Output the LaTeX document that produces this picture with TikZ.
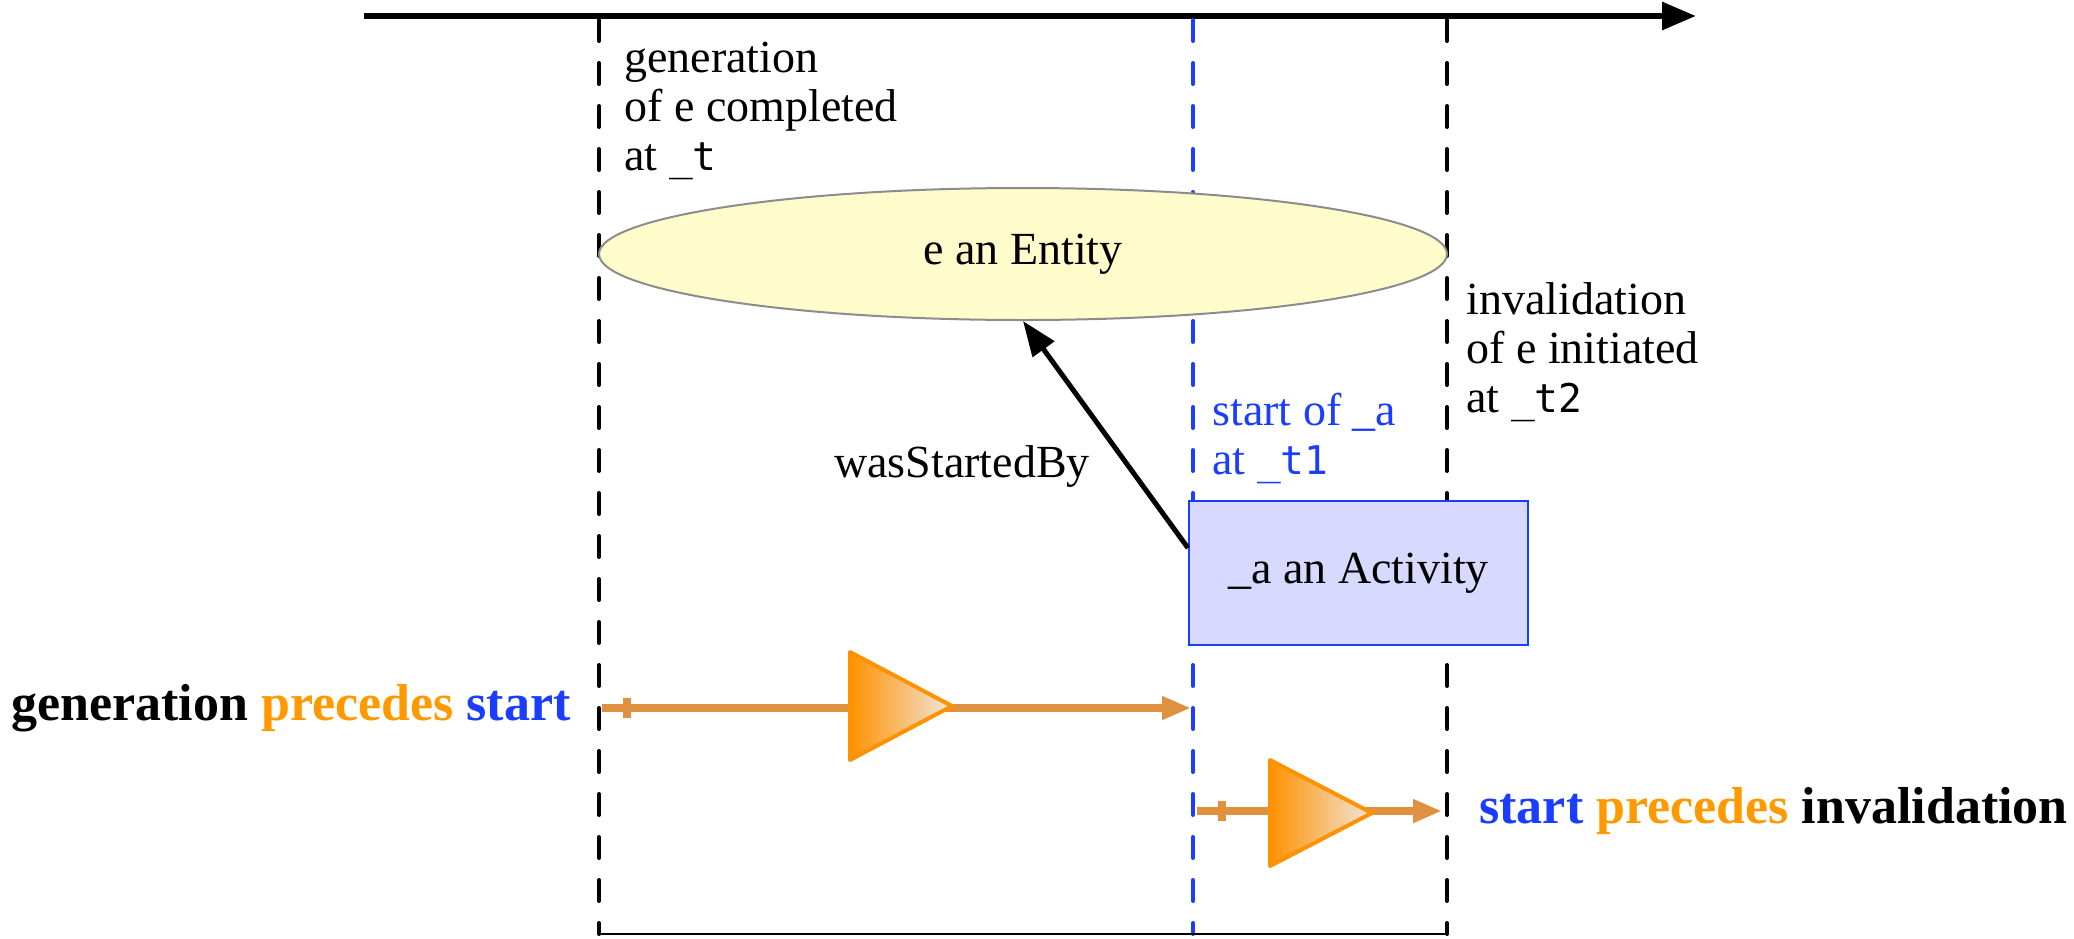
\documentclass[tikz,border=0pt]{standalone}
\usepackage{fontspec}
\setmainfont{Liberation Serif}
\setmonofont[Scale=0.86]{DejaVu Sans Mono}
\usetikzlibrary{arrows.meta,shapes.geometric,calc}
\definecolor{provblue}{HTML}{1A3DFF}
\definecolor{precorange}{HTML}{FF9900}
\definecolor{precline}{HTML}{E0913F}
\definecolor{trifill}{HTML}{FF9200}
\definecolor{trilight}{HTML}{F0E6DC}
\definecolor{entfill}{HTML}{FFFCCB}
\definecolor{entdraw}{HTML}{8C8C8C}
\definecolor{actfill}{HTML}{D7D9FF}
\begin{document}
\begin{tikzpicture}[x=0.5pt,y=-0.5pt,
  tline/.style={line width=2pt, line cap=round, dash pattern=on 10.5pt off 11pt},
  lbl/.style={font=\fontsize{23}{24.5}\selectfont, align=left, inner sep=0pt},
  biglbl/.style={font=\fontsize{26}{30}\selectfont\bfseries, inner sep=0pt},
  precarrow/.style={draw=precline, line width=3.6pt, -{Triangle[length=14.5pt,width=11pt]}},
  prectick/.style={draw=precline, line width=4pt},
  tri/.style={draw=trifill, line width=2pt, left color=trifill, right color=trilight, line join=round},
  entity/.style={ellipse, draw=entdraw, line width=1pt, fill=entfill, minimum width=424pt, minimum height=66pt, inner sep=0pt, font=\fontsize{23}{24.5}\selectfont},
  activity/.style={rectangle, draw=provblue, line width=1pt, fill=actfill, minimum width=169.5pt, minimum height=72pt, inner sep=0pt, font=\fontsize{23}{24.5}\selectfont}
]
\useasboundingbox (0,0) rectangle (2074,938);

% time axis
\coordinate (ax0) at (364,16);
\coordinate (ax1) at (1696,16);
\draw[line width=3pt, -{Triangle[length=17pt,width=13.5pt]}] (ax0) -- (ax1);

% vertical event lines
\coordinate (gtop) at (599,20);   \coordinate (gbot) at (599,934);
\coordinate (stop) at (1193,20);  \coordinate (sbot) at (1193,934);
\coordinate (itop) at (1447,20);  \coordinate (ibot) at (1447,934);
\draw[tline] (gtop) -- (gbot);
\draw[tline, provblue] (stop) -- (sbot);
\draw[tline] (itop) -- (ibot);
\draw[line width=1pt] (gbot) -- (ibot);

% entity and activity
\node[entity] (ent) at (1023,254) {e an Entity};
\node[activity] (act) at (1358.5,573) {\_a an Activity};
\draw[line width=2.5pt, -{Triangle[length=17.5pt,width=13pt]}] ([yshift=12.5pt]act.west) -- (ent.south);
\node[lbl] (wsb) at (962,466) {wasStartedBy};

% event labels
\node[lbl, anchor=west] (genlbl) at (624,111) {generation\\of e completed\\at \texttt{\_t}};
\node[lbl, anchor=west, text=provblue] (startlbl) at (1212,438) {start of \_a\\at \texttt{\_t1}};
\node[lbl, anchor=west] (invlbl) at (1466,352) {invalidation\\of e initiated\\at \texttt{\_t2}};

% generation precedes start
\coordinate (p1a) at (602,708);
\coordinate (p1b) at (1191,708);
\draw[precarrow] (p1a) -- (p1b);
\draw[prectick] (627,698) -- (627,718);
\draw[tri] (850,652) -- (952,706) -- (850,760) -- cycle;
\node[biglbl, anchor=east] (l1) at (571,708) {generation \textcolor{precorange}{precedes} \textcolor{provblue}{start}};

% start precedes invalidation
\coordinate (p2a) at (1197,811);
\coordinate (p2b) at (1442,811);
\draw[precarrow] (p2a) -- (p2b);
\draw[prectick] (1222,801) -- (1222,821);
\draw[tri] (1270,760) -- (1372,813) -- (1270,866) -- cycle;
\node[biglbl, anchor=west] (l2) at (1479,811) {\textcolor{provblue}{start} \textcolor{precorange}{precedes} invalidation};
\end{tikzpicture}
\end{document}
